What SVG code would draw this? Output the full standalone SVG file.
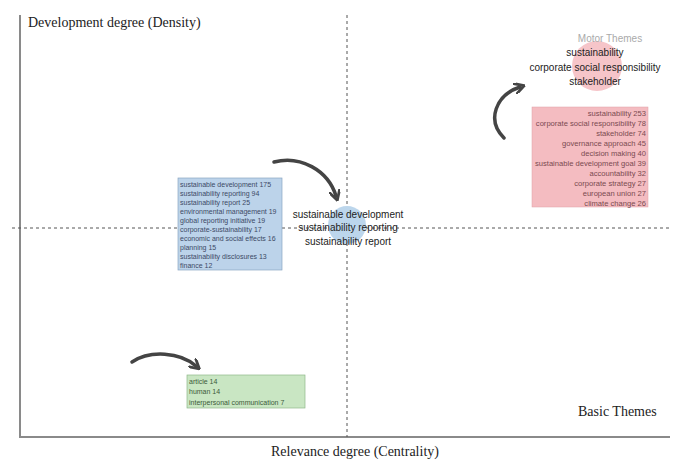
<svg xmlns="http://www.w3.org/2000/svg" width="681" height="461" viewBox="0 0 681 461">
<defs>
<style>
.ax{stroke:#8a8a8a;stroke-width:2;fill:none}
.dash{stroke:#555;stroke-width:1;stroke-dasharray:3,3;fill:none}
.title{font-family:"Liberation Serif",serif;font-size:14px;fill:#222}
.lab{font-family:"Liberation Sans",Arial,sans-serif;font-size:10px;fill:#222;text-anchor:middle}
.small{font-family:"Liberation Sans",Arial,sans-serif;font-size:7px}
.arr{stroke:#444;stroke-width:3.5;fill:none;stroke-linecap:round}
</style>
<marker id="ah" viewBox="0 0 10 10" refX="5" refY="5" markerWidth="3.2" markerHeight="3.2" orient="auto">
<path d="M0,0 L9,5 L0,10" fill="none" stroke="#444" stroke-width="2.5"/>
</marker>
</defs>
<rect width="681" height="461" fill="#fff"/>
<g id="axes">
<path class="ax" d="M20,15 V437 H670"/>
<path class="dash" d="M347,15 V437"/>
<path class="dash" d="M12,228 H670"/>
<text class="title" x="28" y="27">Development degree (Density)</text>
<text class="title" x="355" y="456" text-anchor="middle">Relevance degree (Centrality)</text>
<text class="title" x="578" y="416">Basic Themes</text>
</g>
<g id="connectors">
<path class="arr" d="M504,138 C486,120 496,95 520,87" marker-end="url(#ah)"/>
<path class="arr" d="M274,162 C300,155 328,170 336,196" marker-end="url(#ah)"/>
<path class="arr" d="M132,362 C150,350 180,352 196,366" marker-end="url(#ah)"/>
</g>
<g id="motor">
<circle cx="597" cy="66" r="25" fill="#f6c5c9"/>
<text class="lab" x="610" y="42" style="fill:#aaa">Motor Themes</text>
<text class="lab" x="595" y="56">sustainability</text>
<text class="lab" x="595" y="71">corporate social responsibility</text>
<text class="lab" x="595" y="85">stakeholder</text>
</g>
<g id="motor-box">
<rect x="532" y="107" width="116" height="100" fill="#f4bcc1" stroke="#e0a0a6" stroke-width="0.5"/>
<g class="small" fill="#7a4a50" text-anchor="end" style="font-size:7.6px">
<text x="646" y="116">sustainability 253</text>
<text x="646" y="126">corporate social responsibility 78</text>
<text x="646" y="136">stakeholder 74</text>
<text x="646" y="146">governance approach 45</text>
<text x="646" y="156">decision making 40</text>
<text x="646" y="166">sustainable development goal 39</text>
<text x="646" y="176">accountability 32</text>
<text x="646" y="186">corporate strategy 27</text>
<text x="646" y="196">european union 27</text>
<text x="646" y="206">climate change 26</text>
</g>
</g>
<g id="central">
<circle cx="347" cy="225" r="19" fill="#bcd6ec"/>
<text class="lab" x="348" y="218">sustainable development</text>
<text class="lab" x="348" y="231">sustainability reporting</text>
<text class="lab" x="348" y="245">sustainability report</text>
</g>
<g id="central-box">
<rect x="178" y="178" width="104" height="92" fill="#bcd3ea" stroke="#8aa6c2" stroke-width="0.7"/>
<g class="small" fill="#3c4a66">
<text x="180" y="187">sustainable development 175</text>
<text x="180" y="196">sustainability reporting 94</text>
<text x="180" y="205">sustainability report 25</text>
<text x="180" y="214">environmental management 19</text>
<text x="180" y="223">global reporting initiative 19</text>
<text x="180" y="232">corporate-sustainability 17</text>
<text x="180" y="241">economic and social effects 16</text>
<text x="180" y="250">planning 15</text>
<text x="180" y="259">sustainability disclosures 13</text>
<text x="180" y="268">finance 12</text>
</g>
</g>
<g id="basic-box">
<rect x="187" y="375" width="118" height="33" fill="#c9e6c3" stroke="#8fb889" stroke-width="0.7"/>
<g class="small" fill="#3d5a3a">
<text x="189" y="384">article 14</text>
<text x="189" y="394">human 14</text>
<text x="189" y="405">interpersonal communication 7</text>
</g>
</g>
</svg>
